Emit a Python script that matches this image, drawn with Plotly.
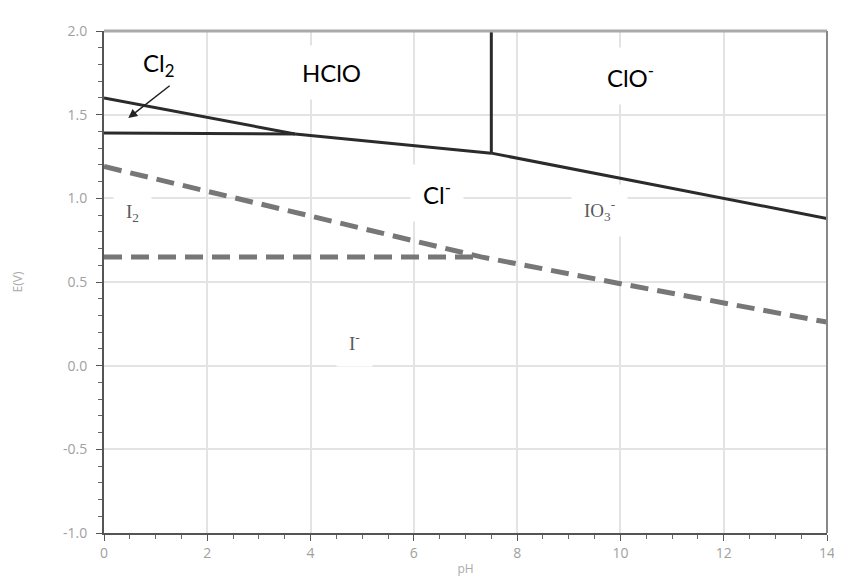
import plotly.graph_objects as go

# --- data ---
# chlorine boundaries (solid)
cl2_hclo_ph = [0, 3.7]
cl2_hclo_e = [1.60, 1.385]
cl2_cl_ph = [0, 3.7]
cl2_cl_e = [1.39, 1.385]
hclo_cl_ph = [3.7, 7.5]
hclo_cl_e = [1.385, 1.27]
clo_cl_ph = [7.5, 14]
clo_cl_e = [1.27, 0.88]
hclo_clo_ph = [7.5, 7.5]
hclo_clo_e = [1.27, 2.0]
# iodine boundaries (dashed)
io3_upper_ph = [0, 4, 7.3, 10, 14]
io3_upper_e = [1.19, 0.89, 0.65, 0.49, 0.26]
i2_i_ph = [0, 7.3]
i2_i_e = [0.65, 0.65]

# labels
label_text = ["Cl<sub>2</sub>", "HClO", "ClO<sup>-</sup>", "Cl<sup>-</sup>"]
label_ph = [1.05, 4.4, 10.2, 6.45]
label_e = [1.80, 1.75, 1.73, 1.03]
ilabel_text = ["I<sub>2</sub>", "IO<sub>3</sub><sup>-</sup>", "I<sup>-</sup>"]
ilabel_ph = [0.55, 9.6, 4.85]
ilabel_e = [0.91, 0.93, 0.14]

x_ticks = [0, 2, 4, 6, 8, 10, 12, 14]
y_ticks = [-1.0, -0.5, 0.0, 0.5, 1.0, 1.5, 2.0]
y_ticktext = ["-1.0", "-0.5", "0.0", "0.5", "1.0", "1.5", "2.0"]

fig = go.Figure()

solid = dict(color="#2b2b2b", width=3)
for xs, ys in [(cl2_hclo_ph, cl2_hclo_e), (cl2_cl_ph, cl2_cl_e), (hclo_cl_ph, hclo_cl_e),
               (clo_cl_ph, clo_cl_e), (hclo_clo_ph, hclo_clo_e)]:
    fig.add_trace(go.Scatter(x=xs, y=ys, mode="lines", line=solid, showlegend=False, hoverinfo="skip"))

dashed = dict(color="#777777", width=5, dash="18px,9px")
for xs, ys in [(io3_upper_ph, io3_upper_e), (i2_i_ph, i2_i_e)]:
    fig.add_trace(go.Scatter(x=xs, y=ys, mode="lines", line=dashed, showlegend=False, hoverinfo="skip"))

for t, x, y in zip(label_text, label_ph, label_e):
    fig.add_annotation(x=x, y=y, text=t, showarrow=False, bgcolor="white", borderpad=12,
                       font=dict(family="Lato, Open Sans, sans-serif", size=24, color="black"))
for t, x, y in zip(ilabel_text, ilabel_ph, ilabel_e):
    fig.add_annotation(x=x, y=y, text=t, showarrow=False, bgcolor="white", borderpad=12,
                       font=dict(family="Liberation Serif, serif", size=19, color="#5a5a5a"))

# arrow pointing to the Cl2 region
fig.add_annotation(x=0.47, y=1.48, ax=1.3, ay=1.68, axref="x", ayref="y", xref="x", yref="y",
                   text="", showarrow=True, arrowhead=2, arrowsize=1.2, arrowwidth=1.5, arrowcolor="#222")

fig.update_xaxes(range=[0, 14], tickvals=x_ticks, showgrid=True, gridcolor="#e3e3e3", gridwidth=1.5,
                 zeroline=False, showline=True, linecolor="#555", linewidth=2, ticks="outside",
                 ticklen=6, tickcolor="#555", automargin=False,
                 minor=dict(dtick=0.5, ticks="outside", ticklen=4, tickcolor="#666", showgrid=False),
                 tickfont=dict(family="Open Sans, sans-serif", size=14, color="#a0a0a0"),
                 title=dict(text="pH", font=dict(size=12, color="#aaaaaa"), standoff=4))
fig.update_yaxes(range=[-1.0, 2.0], tickvals=y_ticks, ticktext=y_ticktext,
                 showgrid=True, gridcolor="#e3e3e3", gridwidth=1.5, automargin=False,
                 zeroline=False, showline=True, linecolor="#555", linewidth=2, ticks="outside",
                 ticklen=6, tickcolor="#555",
                 minor=dict(dtick=0.1, ticks="outside", ticklen=4, tickcolor="#666", showgrid=False),
                 tickfont=dict(family="Open Sans, sans-serif", size=14, color="#a0a0a0"), ticklabelstandoff=6,
                 title=dict(text="E(V)", font=dict(size=12, color="#aaaaaa"), standoff=38))

# top border and right border
fig.add_shape(type="line", xref="paper", yref="paper", x0=0, x1=1, y0=1, y1=1, line=dict(color="#aaaaaa", width=3))
fig.add_shape(type="line", xref="paper", yref="paper", x0=1, x1=1, y0=0, y1=1, line=dict(color="#888888", width=2))

# page body has an 8px margin, so the figure is 834x577 to fill the 842x585 window
fig.update_layout(width=834, height=577, margin=dict(l=96, r=15, t=23, b=52),
                  plot_bgcolor="white", paper_bgcolor="white")

fig.write_html("out.html")
